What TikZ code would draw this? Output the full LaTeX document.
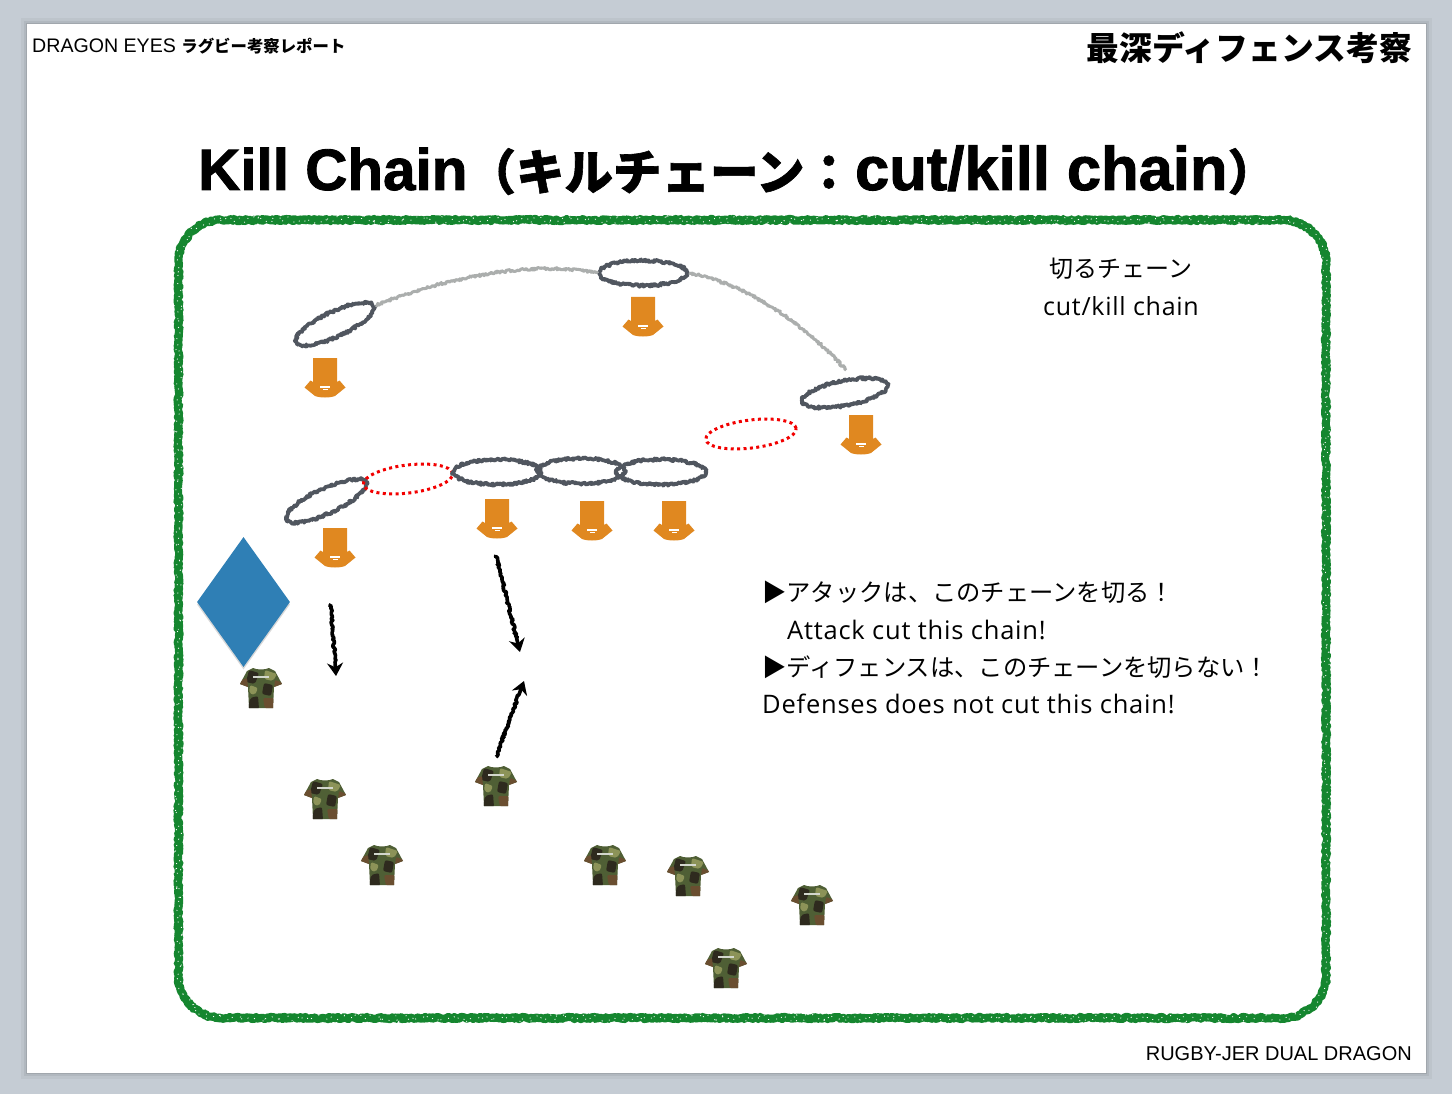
\documentclass[tikz,border=0pt]{standalone}
\usepackage{fontspec}
\setmainfont{Liberation Sans}
\newfontfamily\cjk{Noto Sans CJK JP}
\newfontfamily\heavyfont[BoldFeatures={FakeBold=1.5}]{Liberation Sans}
\newfontfamily\cjkheavy[BoldFeatures={FakeBold=1.2}]{Noto Sans CJK JP}
\newfontfamily\bodyfont[LetterSpace=3]{Open Sans}
\usetikzlibrary{shapes.geometric,decorations.pathmorphing,shadows,arrows.meta}

\definecolor{slidebg}{HTML}{C5CCD4}
\definecolor{fieldgreen}{HTML}{15862F}
\definecolor{linkgrey}{HTML}{50565F}
\definecolor{chaingrey}{HTML}{ABAEAD}
\definecolor{keeperblue}{HTML}{2F7FB5}
\definecolor{shirtorange}{HTML}{E08820}
\definecolor{camobase}{HTML}{4F5F35}
\definecolor{camodark}{HTML}{2E2A1E}
\definecolor{camolight}{HTML}{8C9358}
\definecolor{camobrown}{HTML}{6A4E30}

\newcommand{\fieldpath}{(221,220) -- (1283,220) .. controls (1306,220) and (1326,239) .. (1326,262)
    -- (1326,976) .. controls (1326,999) and (1306,1018) .. (1283,1018)
    -- (221,1018) .. controls (198,1018) and (178.5,999) .. (178.5,976)
    -- (178.5,262) .. controls (178.5,239) and (198,220) .. (221,220) -- cycle}

\tikzset{
  roughline/.style={line join=round,decorate,decoration={random steps,segment length=1.1pt,amplitude=1.3pt}},
  linkring/.style={draw=linkgrey,line width=3.8pt,ellipse,inner sep=0pt,minimum width=#1,minimum height=25pt,roughline},
  cutring/.style={draw=red!95!black,line width=3pt,dash pattern=on 3pt off 3.4pt,ellipse,inner sep=0pt,minimum width=#1,minimum height=28pt},
  chainline/.style={draw=chaingrey,line width=3pt,roughline},
  runarrow/.style={draw=black,line width=3.6pt,line join=round,decorate,decoration={random steps,segment length=1.2pt,amplitude=1.2pt,post=lineto,post length=14pt},-{Stealth[length=13pt,width=16pt]}},
  bodytext/.style={anchor=base west,font=\fontsize{24.3}{30}\selectfont,inner sep=0pt},
  orangeshirt/.pic={
    \fill[shirtorange] (-12,-20) -- (12,-20) -- (12,4) -- (14.5,2.5) -- (20.5,9.5) -- (10,18)
      .. controls (5,20) and (-5,20) .. (-10,18) -- (-20.5,9.5) -- (-14.5,2.5) -- (-12,4) -- cycle;
    \fill[white] (-5,8) rectangle (5,9.5);
    \fill[white] (-2.5,11) rectangle (2.5,12.2);
  },
  camoshirt/.pic={
    \begin{scope}
      \clip (-8,-20) .. controls (-4,-18) and (4,-18) .. (8,-20) -- (14,-17) -- (21,-4) -- (13,-1) -- (12,20) -- (-12,20) -- (-13,-1) -- (-21,-4) -- (-14,-17) -- cycle;
      \fill[camobase] (-22,-22) rectangle (22,22);
      \fill[camodark,rounded corners=2pt] (-12,-18) -- (-2,-15) -- (-6,-4) -- (-15,-6) -- cycle;
      \fill[camodark,rounded corners=2pt] (3,-5) -- (12,-3) -- (10,8) -- (1,6) -- cycle;
      \fill[camodark,rounded corners=2pt] (-11,10) -- (-3,8) -- (-2,21) -- (-13,21) -- cycle;
      \fill[camolight,rounded corners=2pt] (4,-18) -- (16,-14) -- (12,-7) -- (3,-9) -- cycle;
      \fill[camolight,rounded corners=2pt] (-11,-3) -- (-3,0) -- (-6,7) -- (-12,5) -- cycle;
      \fill[camobrown,rounded corners=2pt] (2,10) -- (13,10) -- (13,21) -- (4,21) -- cycle;
      \fill[camobrown,rounded corners=1pt] (-22,-7) -- (-14,-10) -- (-13,0) -- (-22,-2) -- cycle;
      \fill[camobrown,rounded corners=1pt] (14,-8) -- (22,-5) -- (13,1) -- cycle;
    \end{scope}
    \fill[white!75!camobase] (-8,-12.5) rectangle (8,-10);
  },
}

\begin{document}
\begin{tikzpicture}[x=1pt,y=-1pt]
  \useasboundingbox (0,0) rectangle (1452,1094);

  % Draw the slide
  \fill[slidebg] (0,0) rectangle (1452,1094);
  \fill[black,opacity=0.04] (21,18) rectangle (1432,1079);
  \fill[black,opacity=0.06] (24,21) rectangle (1429,1076);
  \fill[black,opacity=0.09] (26,23) rectangle (1427,1074);
  \fill[white] (27,24) rectangle (1426,1073);

  % Draw the headers
  \node[anchor=base west,inner sep=0pt] (brand) at (32,53) {\fontsize{19.6}{24}\selectfont DRAGON EYES {\cjk\bfseries\fontsize{16.4}{24}\selectfont ラグビー考察レポート}};
  \node[anchor=base east,inner sep=0pt] (topic) at (1412,61) {\cjk\bfseries\fontsize{32.8}{36}\selectfont 最深ディフェンス考察};
  \node[anchor=base west,inner sep=0pt] (title) at (198,190) {\heavyfont\bfseries\fontsize{58.4}{64}\selectfont Kill Chain{\cjkheavy\bfseries\fontsize{48.5}{64}\selectfont （キルチェーン：}\hspace{2pt}{\fontsize{61.5}{64}\selectfont cut/kill chain}{\cjkheavy\bfseries\fontsize{48.5}{64}\selectfont ）}};
  \node[anchor=base east,inner sep=0pt] (footer) at (1412,1060) {\fontsize{20}{24}\selectfont RUGBY-JER DUAL DRAGON};

  % Draw the field
  \draw[fieldgreen,line width=8pt,line join=round,decorate,decoration={random steps,segment length=1.4pt,amplitude=1.2pt}] \fieldpath;
  \draw[white,line width=0.8pt,dash pattern=on 1pt off 8pt,decorate,decoration={random steps,segment length=2.3pt,amplitude=3.6pt}] \fieldpath;

  % Draw the rings
  \node[linkring=86pt,rotate=25] (top1) at (335,324) {};
  \node[linkring=88pt] (top2) at (643,273) {};
  \node[linkring=87pt,rotate=11] (top3) at (845,393) {};
  \node[cutring=91pt,rotate=7] (gap1) at (751,434) {};
  \node[linkring=88pt,rotate=25] (low1) at (326,501) {};
  \node[cutring=90pt,rotate=7] (gap2) at (408,479) {};
  \node[linkring=88pt] (low2) at (497,472) {};
  \node[linkring=88pt] (low3) at (581,471) {};
  \node[linkring=90pt] (low4) at (661,472) {};

  % Draw the chain over the top
  \coordinate (top3end) at (846,370);
  \draw[chainline] (top1.east) .. controls (450,277) and (530,260) .. (top2.west);
  \draw[chainline] (top2.east) .. controls (750,285) and (805,325) .. (top3end);

  % Draw the defence
  \pic (def1) at (325,378) {orangeshirt};
  \pic (def2) at (643,317) {orangeshirt};
  \pic (def3) at (861,435) {orangeshirt};
  \pic (def4) at (335,548) {orangeshirt};
  \pic (def5) at (497,519) {orangeshirt};
  \pic (def6) at (592,521) {orangeshirt};
  \pic (def7) at (674,521) {orangeshirt};

  % Draw the marker
  \node[diamond,fill=keeperblue,inner sep=0pt,minimum width=93pt,minimum height=130pt,drop shadow={shadow xshift=0pt,shadow yshift=-2.5pt,opacity=0.3}] (marker) at (243.5,602) {};

  % Draw the attack
  \pic (att1) at (261,688) {camoshirt};
  \pic (att2) at (325,799) {camoshirt};
  \pic (att3) at (382,865) {camoshirt};
  \pic (att4) at (496,786) {camoshirt};
  \pic (att5) at (605,865) {camoshirt};
  \pic (att6) at (688,876) {camoshirt};
  \pic (att7) at (812,905) {camoshirt};
  \pic (att8) at (726,968) {camoshirt};

  % Draw the arrows
  \coordinate (a1s) at (331,604);
  \coordinate (a1e) at (336,676);
  \coordinate (a2s) at (496,555);
  \coordinate (a2e) at (520,652);
  \coordinate (a3s) at (496,757);
  \coordinate (a3e) at (524,681);
  \draw[runarrow] (a1s) -- (a1e);
  \draw[runarrow] (a2s) -- (a2e);
  \draw[runarrow] (a3s) -- (a3e);

  % Draw the notes
  \node[inner sep=0pt] (note1) at (1121,269) {\cjk\fontsize{24}{28}\selectfont 切るチェーン};
  \node[inner sep=0pt] (note2) at (1121,306) {\bodyfont\fontsize{25}{30}\selectfont cut/kill chain};
  \node[bodytext] (line1) at (762,601) {{\cjk ▶アタックは、このチェーンを切る！}};
  \node[bodytext] (line2) at (787,639) {\bodyfont\fontsize{25.5}{30}\selectfont Attack cut this chain!};
  \node[bodytext] (line3) at (762,676) {{\cjk ▶ディフェンスは、このチェーンを切らない！}};
  \node[bodytext] (line4) at (762,713) {\bodyfont\fontsize{25.5}{30}\selectfont Defenses does not cut this chain!};
\end{tikzpicture}
\end{document}
